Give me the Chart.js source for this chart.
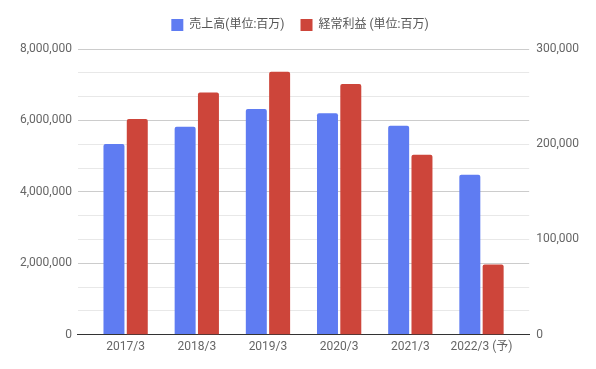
<!DOCTYPE html>
<html>
<head>
<meta charset="utf-8">
<script src="https://cdn.jsdelivr.net/npm/chart.js@4/dist/chart.umd.min.js"></script>
<style>
  html, body { margin: 0; padding: 0; background: #fff; }
  #wrap { width: 596px; height: 369px; }
</style>
</head>
<body>
<div id="wrap"><canvas id="chartCanvas" width="596" height="369"></canvas></div>
<script>
// datos
const categorias = ['2017/3', '2018/3', '2019/3', '2020/3', '2021/3', '2022/3 (予)'];
const ventas = [5340000, 5820000, 6320000, 6200000, 5850000, 4480000];
const beneficio = [226600, 254200, 276200, 263300, 188800, 73700];
const etiquetaVentas = '売上高(単位:百万)';
const etiquetaBeneficio = '経常利益 (単位:百万)';
const maxIzq = 8000000;
const maxDer = 300000;

Chart.defaults.font.family = "Roboto, 'Noto Sans CJK JP', sans-serif";
Chart.defaults.font.size = 12;
Chart.defaults.color = '#666';

// separación extra bajo la leyenda
const margenLeyenda = {
  id: 'margenLeyenda',
  beforeInit(chart) {
    const fitOriginal = chart.legend.fit;
    chart.legend.fit = function () {
      fitOriginal.bind(chart.legend)();
      this.height += 8;
    };
  },
};

const ctx = document.getElementById('chartCanvas').getContext('2d');

new Chart(ctx, {
  type: 'bar',
  data: {
    labels: categorias,
    datasets: [
      {
        label: etiquetaVentas,
        data: ventas,
        backgroundColor: '#5f7cf2',
        yAxisID: 'y',
        borderRadius: { topLeft: 2, topRight: 2 },
        borderSkipped: 'bottom',
        barPercentage: 0.9,
        categoryPercentage: 0.655,
      },
      {
        label: etiquetaBeneficio,
        data: beneficio,
        backgroundColor: '#cd453a',
        yAxisID: 'y1',
        borderRadius: { topLeft: 2, topRight: 2 },
        borderSkipped: 'bottom',
        barPercentage: 0.9,
        categoryPercentage: 0.655,
      },
    ],
  },
  plugins: [margenLeyenda],
  options: {
    responsive: false,
    animation: false,
    layout: { padding: { left: 14, right: 10, top: 3, bottom: 10 } },
    scales: {
      x: {
        grid: { display: false, drawTicks: false },
        border: { color: '#333', width: 1 },
        ticks: { color: '#666', padding: 5 },
        afterUpdate: scale => {
          // margen más ancho en los extremos del eje
          const extra = 0.17;
          scale._startValue = -0.5 - extra;
          scale._valueRange = categorias.length + 2 * extra;
        },
      },
      y: {
        position: 'left',
        min: 0,
        max: maxIzq,
        afterBuildTicks: axis => {
          // 12 divisiones: líneas principales cada 2.000.000
          axis.ticks = Array.from({ length: 13 }, (_, i) => ({ value: maxIzq * i / 12 }));
        },
        ticks: {
          color: '#666',
          padding: 6,
          autoSkip: false,
          callback: v => (v % 2000000 === 0 ? v.toLocaleString('en-US') : ''),
        },
        grid: {
          drawTicks: false,
          color: c => (c.index % 3 === 0 ? '#cccccc' : '#e8e8e8'),
        },
        border: { display: false },
      },
      y1: {
        position: 'right',
        min: 0,
        max: maxDer,
        ticks: {
          stepSize: 100000,
          color: '#666',
          padding: 7,
          callback: v => v.toLocaleString('en-US'),
        },
        grid: { display: false, drawTicks: false },
        border: { display: false },
      },
    },
    plugins: {
      legend: {
        position: 'top',
        labels: {
          boxWidth: 12,
          boxHeight: 12,
          color: '#555',
          padding: 16,
          font: { size: 12 },
        },
      },
      tooltip: { enabled: false },
    },
  },
});
</script>
</body>
</html>
